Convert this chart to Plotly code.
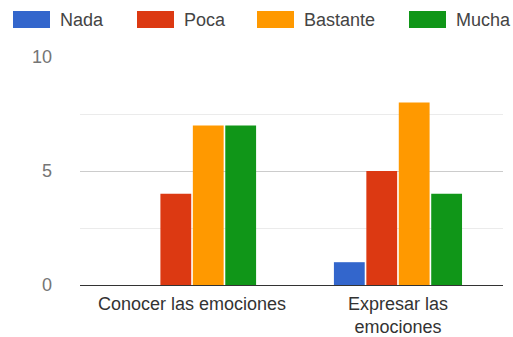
import plotly.graph_objects as go

# Survey results: how much each skill is worked on
categories = ["Conocer las emociones", "Expresar las<br>emociones"]
series_names = ["Nada", "Poca", "Bastante", "Mucha"]
nada = [0, 1]
poca = [4, 5]
bastante = [7, 8]
mucha = [7, 4]
series_values = [nada, poca, bastante, mucha]
colors = ["#3366cc", "#dc3912", "#ff9900", "#109618"]
y_ticks = [0, 5, 10]

W, H = 513, 337
L, R, T, B = 80, 10, 57, 52
plot_w, plot_h = W - L - R, H - T - B

fig = go.Figure()
for name, vals, col in zip(series_names, series_values, colors):
    fig.add_trace(go.Bar(
        x=list(range(len(categories))), y=vals, name=name,
        marker=dict(color=col, line=dict(width=0)),
        showlegend=False,
    ))

# Legend row drawn across the top: swatch + label per series
def px_x(p):
    return (p - L) / plot_w

def px_y(p):
    return (H - B - p) / plot_h

swatch_left = [13, 137, 257, 409]
for name, col, sx in zip(series_names, colors, swatch_left):
    fig.add_shape(type="rect", xref="paper", yref="paper",
                  x0=px_x(sx), x1=px_x(sx + 37), y0=px_y(28), y1=px_y(11),
                  fillcolor=col, line=dict(width=0), layer="above")
    fig.add_annotation(xref="paper", yref="paper", x=px_x(sx + 45), y=px_y(19.5),
                       text=name, showarrow=False, xanchor="left", yanchor="middle",
                       font=dict(family="Arial", size=18, color="#444444"))

fig.update_layout(
    width=W, height=H,
    margin=dict(l=L, r=R, t=T, b=B, pad=0, autoexpand=False),
    paper_bgcolor="white", plot_bgcolor="white",
    barmode="group", bargap=0.37, bargroupgap=0.05,
    font=dict(family="Arial", size=16, color="#444444"),
)
fig.update_xaxes(
    range=[-0.544, 1.51], automargin=False,
    tickmode="array", tickvals=list(range(len(categories))), ticktext=categories,
    tickfont=dict(size=18, color="#333333"),
    showgrid=False, zeroline=False, showline=False, ticks="",
    ticklabelstandoff=6,
)
fig.update_yaxes(
    range=[0, 10], automargin=False, tickmode="array", tickvals=y_ticks,
    tickfont=dict(size=18, color="#757575"),
    showgrid=True, gridcolor="#cccccc", gridwidth=1,
    minor=dict(dtick=2.5, tick0=0, showgrid=True, gridcolor="#ebebeb", gridwidth=1),
    zeroline=True, zerolinecolor="#333333", zerolinewidth=1,
    showline=False, ticks="", ticklabelstandoff=27,
)

fig.write_html("out.html")
